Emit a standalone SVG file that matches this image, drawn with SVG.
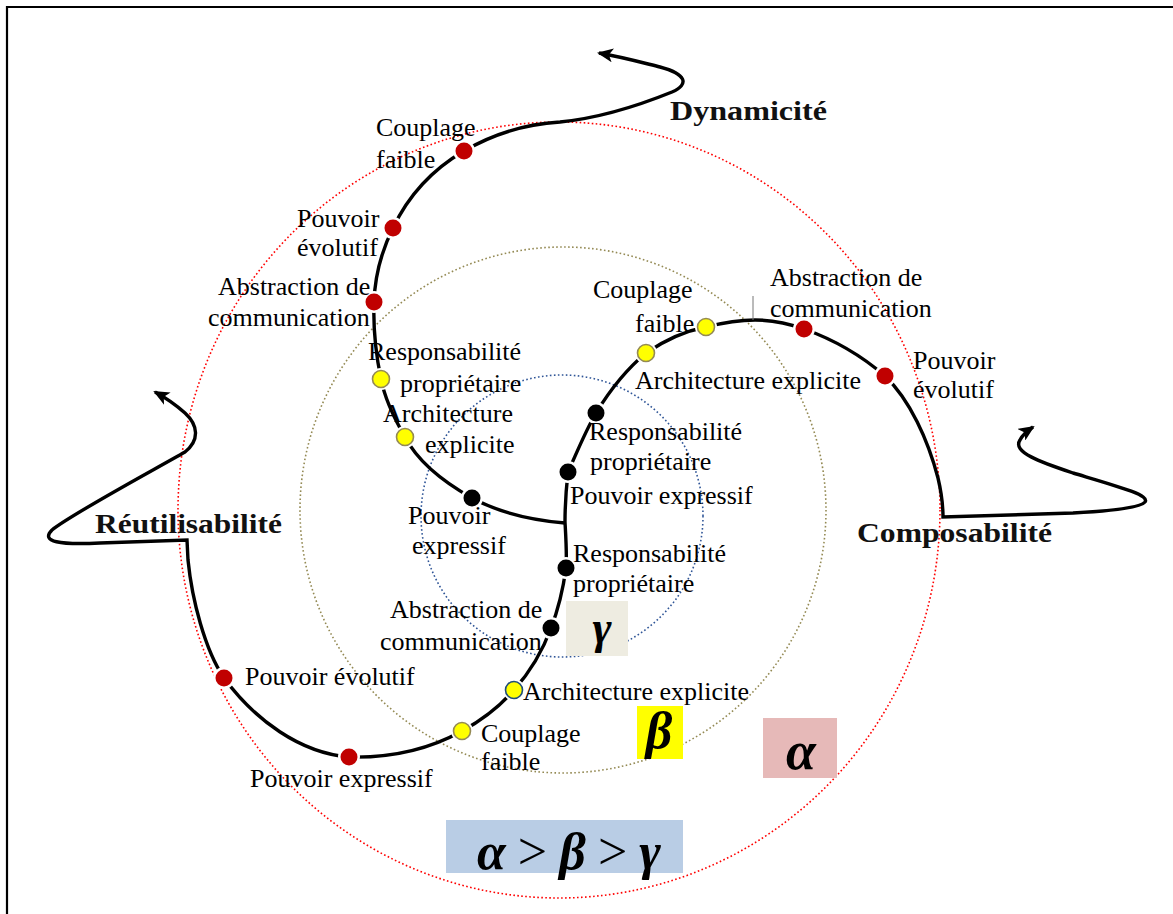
<svg xmlns="http://www.w3.org/2000/svg" width="1173" height="914" viewBox="0 0 1173 914">
  <style>
    .lbl { font-family: "Liberation Serif", "Times New Roman", serif; font-size: 26px; fill: #000; }
    .axis { font-family: "Liberation Serif", "Times New Roman", serif; font-size: 28px; font-weight: bold; fill: #111; }
    .greek { font-family: "Liberation Serif", "Times New Roman", serif; font-style: italic; font-weight: bold; fill: #000; }
    .rel { font-style: normal; font-weight: normal; }
    .ring { fill: none; stroke-width: 1.6; stroke-dasharray: 1.6 2.4; }
    .curve { fill: none; stroke: #000; stroke-width: 3.4; stroke-linejoin: miter; }
    .halo { fill: #fff; }
    .red { fill: #C00000; }
    .yel { fill: #FFFF00; stroke: #948A54; stroke-width: 1.6; }
    .yelb { fill: #FFFF00; stroke: #1F4E79; stroke-width: 1.6; }
    .blk { fill: #000; }
  </style>
  <defs>
    <marker id="arrow" viewBox="0 0 16 14" refX="14" refY="7" markerWidth="16" markerHeight="14" markerUnits="userSpaceOnUse" orient="auto">
      <path d="M0,0 L16,7 L0,14 L4,7 Z" fill="#000"/>
    </marker>
  </defs>

  <rect width="1173" height="914" fill="#fff"/>

  <!-- page frame -->
  <g id="frame" stroke="#000" stroke-width="2.2">
    <line x1="6" y1="7" x2="1173" y2="7"/>
    <line x1="7" y1="6" x2="7" y2="914"/>
  </g>

  <!-- concentric quality levels -->
  <g id="levels">
    <ellipse cx="559" cy="510" rx="381" ry="388" class="ring" stroke="#FF0000"/>
    <circle cx="563" cy="510" r="263" class="ring" stroke="#948A54"/>
    <circle cx="562" cy="516" r="141" class="ring" stroke="#2F5597"/>
  </g>

  <!-- level tags -->
  <g id="tag-gamma">
    <rect x="566" y="601" width="62" height="55" fill="#EEECE1"/>
    <text class="greek" x="602" y="643" font-size="46" text-anchor="middle">γ</text>
  </g>
  <g id="tag-beta">
    <rect x="637" y="706" width="46" height="53" fill="#FFFF00"/>
    <text class="greek" x="659" y="748" font-size="52" text-anchor="middle">β</text>
  </g>
  <g id="tag-alpha">
    <rect x="763" y="718" width="74" height="60" fill="#E6B9B8"/>
    <text class="greek" x="801" y="769" font-size="54" text-anchor="middle">α</text>
  </g>
  <g id="tag-order">
    <rect x="446" y="820" width="237" height="53" fill="#B9CDE5"/>
    <text class="greek" x="477" y="869" font-size="52" textLength="184" lengthAdjust="spacing">α <tspan class="rel">&gt;</tspan> β <tspan class="rel">&gt;</tspan> γ</text>
  </g>

  <!-- spiral connectors -->
  <g id="connectors">
    <path id="branch-dynamicite" class="curve" marker-end="url(#arrow)"
      d="M565,523 C530,520 498,512 472,498 C440,480 417,460 405,437 C394,418 385,400 381,379 C376,355 373,330 374,302 C375,275 382,250 393,228 C410,192 435,168 464,151 C495,133 525,124 560,122 C600,118 640,105 672,92 C690,84 686,74 660,67 C640,62 622,57 599,53"/>
    <path id="branch-composabilite" class="curve" marker-end="url(#arrow)"
      d="M568,472 C578,450 585,432 596,413 C610,390 628,368 646,353 C665,340 685,331 706,327 C722,323 738,320 755,320 C772,320 790,324 804,329 C835,340 862,356 885,376 C910,400 928,440 938,478 C942,495 943,505 943,517 L1073,513 C1110,511 1140,508 1145,502 C1150,495 1120,487 1073,473 C1040,462 1012,452 1020,440 C1023,434 1027,431 1033,427"/>
    <path id="branch-reutilisabilite" class="curve" marker-end="url(#arrow)"
      d="M568,472 C566,490 565,505 565,522 C566,540 567,555 566,568 C563,590 558,610 551,628 C543,650 530,672 514,690 C500,706 482,720 462,731 C428,750 390,758 349,757 C300,753 255,720 224,678 C205,650 192,600 188,560 L187,540 L100,543 C60,545 40,542 52,530 C70,515 150,472 185,452 C200,440 198,425 185,413 C176,405 168,399 155,392"/>
    <line x1="753" y1="296" x2="753" y2="320" stroke="#777" stroke-width="1"/>
  </g>

  <!-- Dynamicité branch properties -->
  <g id="d-couplage">
    <circle cx="464" cy="151" r="11" class="halo"/><circle cx="464" cy="151" r="8.5" class="red"/>
    <text class="lbl" x="376" y="136">Couplage</text><text class="lbl" x="376" y="168">faible</text>
  </g>
  <g id="d-evolutif">
    <circle cx="393" cy="228" r="11" class="halo"/><circle cx="393" cy="228" r="8.5" class="red"/>
    <text class="lbl" x="297" y="227">Pouvoir</text><text class="lbl" x="297" y="256">évolutif</text>
  </g>
  <g id="d-abstraction">
    <circle cx="374" cy="302" r="11" class="halo"/><circle cx="374" cy="302" r="8.5" class="red"/>
    <text class="lbl" x="218" y="295">Abstraction de</text><text class="lbl" x="208" y="326">communication</text>
  </g>
  <g id="d-responsabilite">
    <circle cx="381" cy="379" r="11" class="halo"/><circle cx="381" cy="379" r="8.5" class="yel"/>
    <text class="lbl" x="368" y="360">Responsabilité</text><text class="lbl" x="400" y="392">propriétaire</text>
  </g>
  <g id="d-architecture">
    <circle cx="405" cy="437" r="11" class="halo"/><circle cx="405" cy="437" r="8.5" class="yel"/>
    <text class="lbl" x="383" y="422">Architecture</text><text class="lbl" x="425" y="453">explicite</text>
  </g>
  <g id="d-expressif">
    <circle cx="472" cy="498" r="11" class="halo"/><circle cx="472" cy="498" r="8.5" class="blk"/>
    <text class="lbl" x="408" y="524">Pouvoir</text><text class="lbl" x="412" y="554">expressif</text>
  </g>

  <!-- Composabilité branch properties -->
  <g id="c-expressif">
    <circle cx="568" cy="472" r="11" class="halo"/><circle cx="568" cy="472" r="8.5" class="blk"/>
    <text class="lbl" x="570" y="504">Pouvoir expressif</text>
  </g>
  <g id="c-responsabilite">
    <circle cx="596" cy="413" r="11" class="halo"/><circle cx="596" cy="413" r="8.5" class="blk"/>
    <text class="lbl" x="589" y="440">Responsabilité</text><text class="lbl" x="590" y="470">propriétaire</text>
  </g>
  <g id="c-architecture">
    <circle cx="646" cy="353" r="11" class="halo"/><circle cx="646" cy="353" r="8.5" class="yel"/>
    <text class="lbl" x="635" y="389">Architecture explicite</text>
  </g>
  <g id="c-couplage">
    <circle cx="706" cy="327" r="11" class="halo"/><circle cx="706" cy="327" r="8.5" class="yel"/>
    <text class="lbl" x="593" y="298">Couplage</text><text class="lbl" x="635" y="332">faible</text>
  </g>
  <g id="c-abstraction">
    <circle cx="804" cy="329" r="11" class="halo"/><circle cx="804" cy="329" r="8.5" class="red"/>
    <text class="lbl" x="770" y="286">Abstraction de</text><text class="lbl" x="770" y="317">communication</text>
  </g>
  <g id="c-evolutif">
    <circle cx="885" cy="376" r="11" class="halo"/><circle cx="885" cy="376" r="8.5" class="red"/>
    <text class="lbl" x="913" y="369">Pouvoir</text><text class="lbl" x="913" y="398">évolutif</text>
  </g>

  <!-- Réutilisabilité branch properties -->
  <g id="r-responsabilite">
    <circle cx="566" cy="568" r="11" class="halo"/><circle cx="566" cy="568" r="8.5" class="blk"/>
    <text class="lbl" x="573" y="562">Responsabilité</text><text class="lbl" x="573" y="592">propriétaire</text>
  </g>
  <g id="r-abstraction">
    <circle cx="551" cy="628" r="11" class="halo"/><circle cx="551" cy="628" r="8.5" class="blk"/>
    <text class="lbl" x="390" y="618">Abstraction de</text><text class="lbl" x="380" y="650">communication</text>
  </g>
  <g id="r-architecture">
    <circle cx="514" cy="690" r="11" class="halo"/><circle cx="514" cy="690" r="8.5" class="yelb"/>
    <text class="lbl" x="523" y="700">Architecture explicite</text>
  </g>
  <g id="r-couplage">
    <circle cx="462" cy="731" r="11" class="halo"/><circle cx="462" cy="731" r="8.5" class="yel"/>
    <text class="lbl" x="481" y="742">Couplage</text><text class="lbl" x="481" y="770">faible</text>
  </g>
  <g id="r-expressif">
    <circle cx="349" cy="757" r="11" class="halo"/><circle cx="349" cy="757" r="8.5" class="red"/>
    <text class="lbl" x="250" y="787">Pouvoir expressif</text>
  </g>
  <g id="r-evolutif">
    <circle cx="224" cy="678" r="11" class="halo"/><circle cx="224" cy="678" r="8.5" class="red"/>
    <text class="lbl" x="245" y="685">Pouvoir évolutif</text>
  </g>

  <!-- quality axes -->
  <g id="axis-dynamicite"><text class="axis" x="670" y="120" textLength="157" lengthAdjust="spacingAndGlyphs">Dynamicité</text></g>
  <g id="axis-reutilisabilite"><text class="axis" x="95" y="533" textLength="187" lengthAdjust="spacingAndGlyphs">Réutilisabilité</text></g>
  <g id="axis-composabilite"><text class="axis" x="857" y="542" textLength="195" lengthAdjust="spacingAndGlyphs">Composabilité</text></g>
</svg>
